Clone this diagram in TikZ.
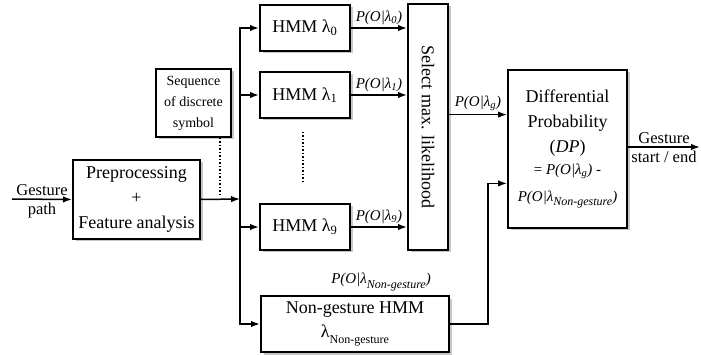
\documentclass[tikz,border=0pt]{standalone}
\usepackage{fontspec}
\setmainfont{Liberation Serif}
\usetikzlibrary{positioning,arrows.meta,shadows,calc}

\newcommand{\lsub}[1]{λ\textsubscript{#1}}
\newcommand{\ngsub}{\raisebox{-0.3em}{\fontsize{12}{12}\selectfont Non-gesture}}

\begin{document}
\begin{tikzpicture}[x=1pt,y=-1pt,
  box/.style={draw,line width=2pt,fill=white,align=center,inner sep=2pt,
    font=\fontsize{18}{25}\selectfont,
    drop shadow={shadow xshift=2.5pt,shadow yshift=-2.5pt,fill=black!40,opacity=0.55}},
  arr/.style={-{Latex[length=9pt,width=6.5pt]},line width=1.5pt},
  plab/.style={font=\fontsize{15}{18}\selectfont\itshape,inner sep=3pt},
  txt/.style={font=\fontsize{16.5}{19}\selectfont,inner sep=3pt,align=center},
  dotline/.style={dotted,line width=1.5pt},
]
\useasboundingbox (0,0) rectangle (701,355);

% === Blocks ===
\node[box,minimum width=127pt,minimum height=79pt] (pre) at (136.5,199.5)
  {Preprocessing\\+\\Feature analysis};
\node[box,minimum width=75pt,minimum height=68pt,inner sep=1pt,
  font=\fontsize{14}{21}\selectfont] (seq) at (193.5,103)
  {Sequence\\of discrete\\symbol};
\node[box,minimum width=90pt,minimum height=46pt] (hmm0) at (305,28) {HMM \lsub{0}};
\node[box,minimum width=90pt,minimum height=46pt] (hmm1) at (305,95) {HMM \lsub{1}};
\node[box,minimum width=90pt,minimum height=46pt] (hmm9) at (305,227) {HMM \lsub{9}};
\node[box,minimum width=188pt,minimum height=56pt] (ng) at (355,324)
  {Non-gesture HMM\\[-1pt]λ\ngsub};
\node[box,rotate=-90,minimum width=246pt,minimum height=40pt] (sel) at (428,127)
  {Select max. likelihood};
\node[box,minimum width=119pt,minimum height=158pt] (dp) at (567.5,149)
  {Differential\\Probability\\(\textit{DP})\\[-3pt]
   {\fontsize{15}{18}\selectfont = \textit{P(O|\lsub{g})} -}\\[2pt]
   {\fontsize{15}{18}\selectfont\itshape P(O|λ\ngsub)}};

% === Free ends ===
\coordinate (gin) at (12,199);
\coordinate (split) at (240,199);
\coordinate (tap) at (220,196);
\coordinate (gout) at (700,147);
\coordinate (dpin1) at ($(dp.north west)!0.285!(dp.south west)$);
\coordinate (dpin2) at ($(dp.south west)!0.285!(dp.north west)$);

% === Input ===
\draw[arr] (gin) -- node[txt,above] (lgin1) {Gesture} node[txt,below] (lgin2) {path} (pre.west);
\draw[arr] (pre.east) -- (split);
\draw[dotline] (seq.south -| tap) -- (tap);

% === Fan out to models ===
\draw[arr] (split) |- (hmm0.west);
\draw[arr] (split) |- (hmm1.west);
\draw[arr] (split) |- (hmm9.west);
\draw[arr] (split) |- (ng.west);
\draw[dotline] ($(hmm1.south)+(-2,13)$) -- ($(hmm9.north)+(-2,-19)$);

% === Likelihoods (sel is turned, so its south side faces left) ===
\draw[arr] (hmm0.east) -- node[plab,above] (p0) {P(O|λ\textsubscript{0})} (hmm0.east -| sel.south);
\draw[arr] (hmm1.east) -- node[plab,above] (p1) {P(O|λ\textsubscript{1})} (hmm1.east -| sel.south);
\draw[arr] (hmm9.east) -- node[plab,above] (p9) {P(O|λ\textsubscript{9})} (hmm9.east -| sel.south);
\node[plab,anchor=south east] (png) at ($(ng.north east)+(-16,-1)$)
  {P(O|λ\ngsub)};

% === Differential probability ===
\draw[arr] (dpin1 -| sel.north) -- node[plab,above] (pg) {P(O|λ\textsubscript{g})} (dpin1);
\draw[arr] (ng.east) -- ++(38,0) |- (dpin2);
\draw[arr] (dp.east |- gout) -- node[txt,above] (lg1) {Gesture} node[txt,below] (lg2) {start / end} (gout);

\end{tikzpicture}
\end{document}
